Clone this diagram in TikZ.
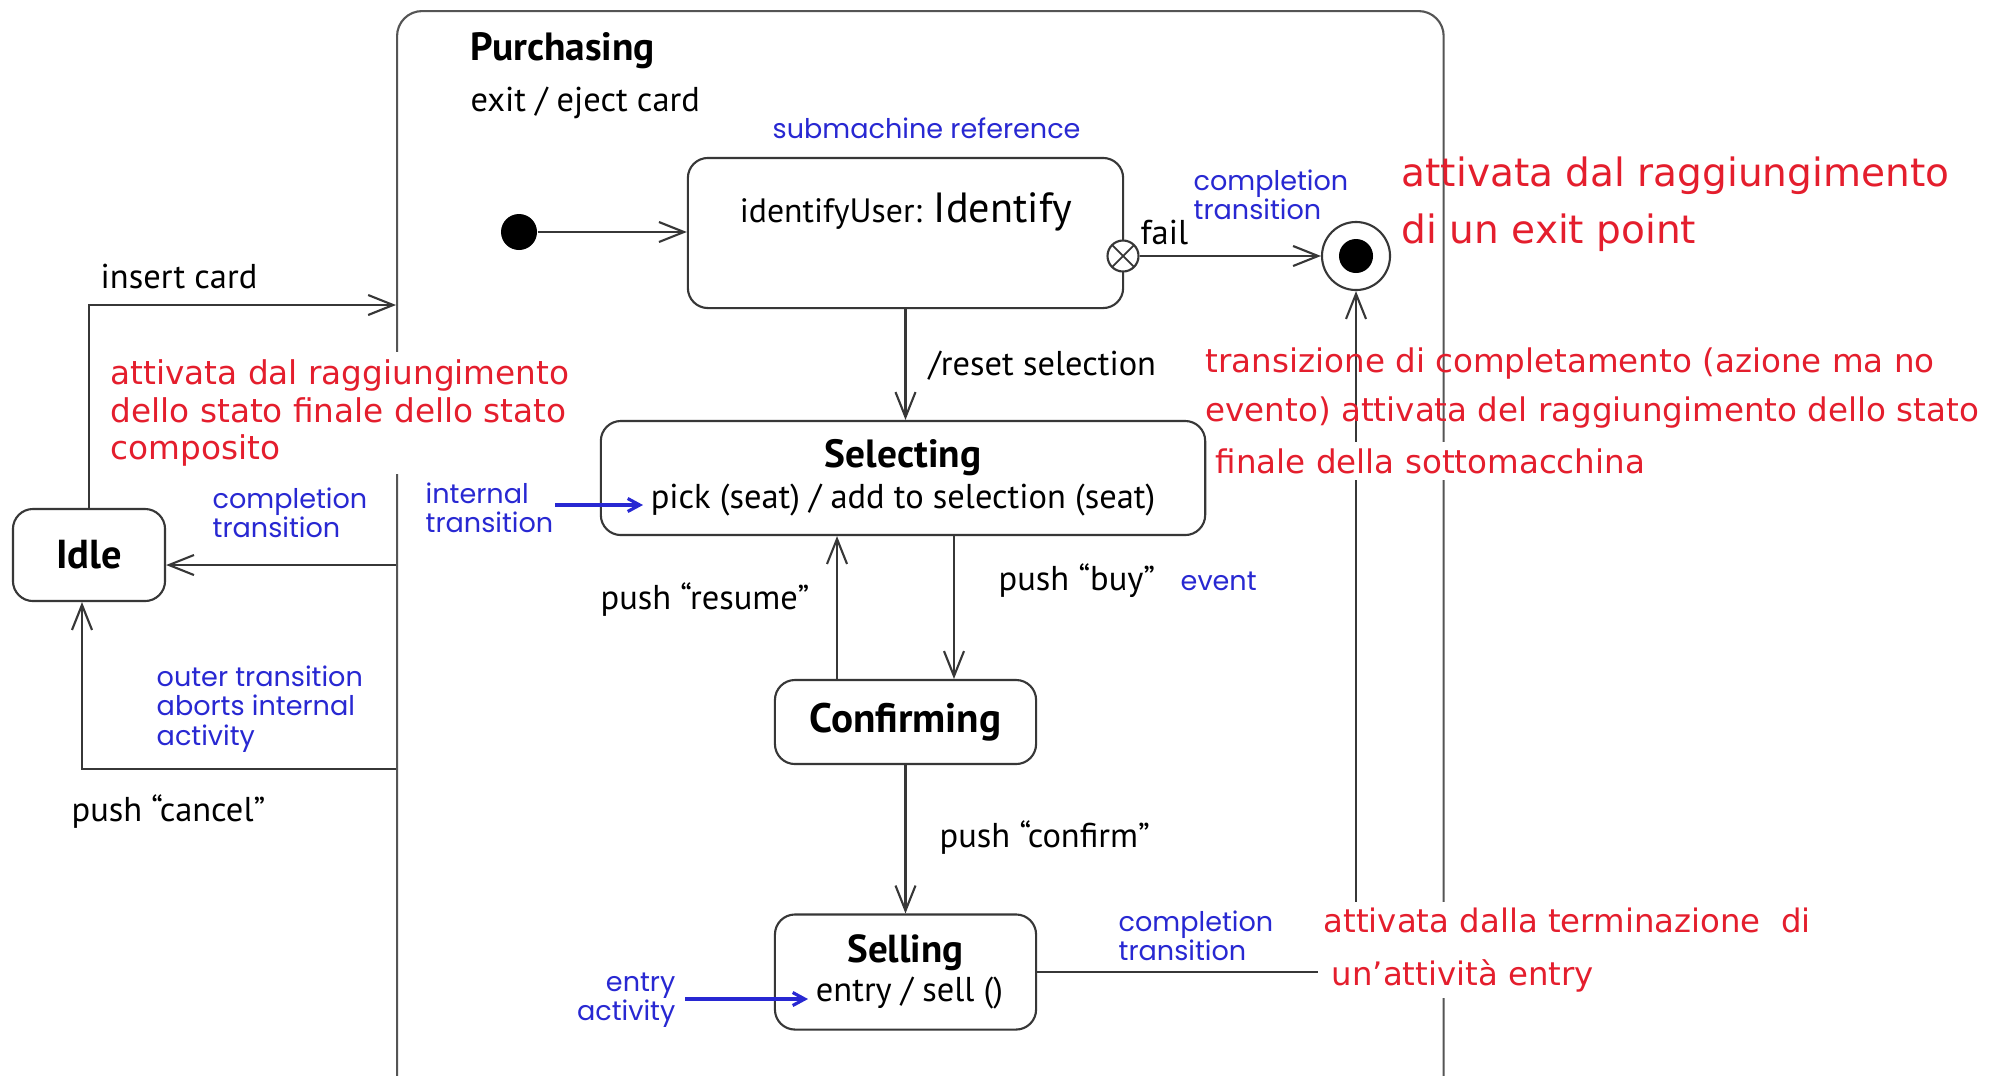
\documentclass[tikz,border=0pt]{standalone}
\usepackage{fontspec}
\setmainfont{PT Sans}
\newfontfamily\bluefont{Poppins}
\newfontfamily\redfont{DejaVu Sans}
\usetikzlibrary{arrows.meta}
\definecolor{ublue}{RGB}{40,40,210}
\definecolor{ured}{RGB}{228,30,45}
\definecolor{uline}{RGB}{55,55,55}
\begin{document}
\begin{tikzpicture}[x=0.01cm,y=-0.01cm,
  state/.style={draw=uline, line width=0.6pt, rounded corners=0.2cm, fill=white, inner sep=0pt, align=center},
  tr/.style={draw=uline, line width=0.6pt, -{Straight Barb[length=0.25cm,width=0.2cm]}},
  btr/.style={draw=ublue, line width=0.9pt, -{Straight Barb[length=0.12cm,width=0.13cm]}},
  lbl/.style={font=\fontsize{9.8}{12}\selectfont, inner sep=0pt, anchor=west, text=black},
  blbl/.style={font=\bluefont\fontsize{7.7}{8.4}\selectfont, inner sep=0pt, anchor=west, text=ublue, align=left},
  rlbl/.style={font=\redfont\fontsize{9.25}{10.5}\selectfont, inner sep=0pt, anchor=west, text=ured, align=left},
]
\useasboundingbox (0,0) rectangle (2001,1075);
\fill[white] (0,0) rectangle (2001,1075);
% composite state
\node[draw=uline!85, line width=0.6pt, rounded corners=0.25cm, minimum width=10.46cm, minimum height=10.9cm, anchor=north west, inner sep=0pt] (purch) at (396,10) {};
\node[lbl, font=\fontsize{11.2}{13}\selectfont] (ptitle) at (470,51) {\bfseries Purchasing};
\node[lbl] (pexit) at (470,103) {exit / eject card};
% states
\node[state, minimum width=4.35cm, minimum height=1.5cm] (identify) at (905.5,233) {};
\node[inner sep=0pt] (idtext) at (906,212) {\fontsize{9.6}{12}\selectfont identifyUser: \fontsize{12}{14}\selectfont Identify};
\node[circle, fill=black, minimum size=0.36cm, inner sep=0pt] (init) at (519,232) {};
\node[circle, draw=uline, fill=white, line width=0.6pt, minimum size=0.31cm, inner sep=0pt,
  path picture={\draw[uline, line width=0.5pt] (path picture bounding box.south west) -- (path picture bounding box.north east) (path picture bounding box.north west) -- (path picture bounding box.south east);}] (exitpt) at (1123,256) {};
\node[circle, draw=uline, line width=0.6pt, fill=white, minimum size=0.68cm, inner sep=0pt] (final) at (1356,256) {};
\node[circle, fill=black, minimum size=0.34cm, inner sep=0pt] (finalin) at (final.center) {};
\node[state, minimum width=6.04cm, minimum height=1.14cm, font=\fontsize{9.8}{11.7}\selectfont] (selecting) at (903,478) {{\fontsize{11.2}{11.7}\selectfont\bfseries Selecting}\\pick (seat) / add to selection (seat)};
\node[state, minimum width=1.52cm, minimum height=0.92cm, font=\fontsize{11.5}{13}\selectfont] (idle) at (89,555) {\bfseries Idle};
\node[state, minimum width=2.61cm, minimum height=0.84cm, font=\fontsize{11.7}{13}\selectfont] (confirming) at (905.5,722) {\bfseries Confirming};
\node[state, minimum width=2.61cm, minimum height=1.15cm, font=\fontsize{9.8}{11}\selectfont] (selling) at (905.5,972) {{\fontsize{11.1}{11}\selectfont\bfseries Selling}\\\hspace{0.08cm}entry / sell ()};
% connectors
\coordinate (buyx) at (954,0);
\coordinate (resx) at (837,0);
\coordinate (pin) at (396,305);
\coordinate (pcomp) at (396,565);
\coordinate (pcan) at (396,769);
\coordinate (cancx) at (82,0);
\draw[tr] (init) -- (identify.west |- init);
\draw[tr] (exitpt) -- (final);
\draw[tr] (identify.south) -- (identify.south |- selecting.north);
\draw[tr] (selecting.south -| buyx) -- (confirming.north -| buyx);
\draw[tr] (confirming.north -| resx) -- (selecting.south -| resx);
\draw[tr] (confirming.south) -- (selling.north);
\draw[tr] (idle.north) |- (pin);
\draw[tr] (pcomp) -- (idle.east |- pcomp);
\draw[tr] (pcan) -| (idle.south -| cancx);
\draw[tr] (selling.east) -| (final.south);
% blue arrows
\coordinate (itstart) at (555,505);
\coordinate (itend) at (643,505);
\coordinate (eastart) at (685,999);
\coordinate (eaend) at (808,999);
\draw[btr] (itstart) -- (itend);
\draw[btr] (eastart) -- (eaend);
% black labels
\node[lbl] (lfail) at (1140,232) {fail};
\node[lbl] (lreset) at (928,366) {/reset selection};
\node[lbl] (linsert) at (100,276) {insert card};
\node[lbl] (lcancel) at (71,812) {push “cancel”};
\node[lbl] (lresume) at (600,600) {push “resume”};
\node[lbl] (lbuy) at (998,581) {push “buy”};
\node[lbl] (lconfirm) at (939,838) {push “confirm”};
% blue labels
\node[blbl] (bsub) at (772,128) {submachine reference};
\node[blbl] (bcomp1) at (1193,195) {completion\\transition};
\node[blbl] (bcomp2) at (212,513) {completion\\transition};
\node[blbl] (bint) at (425,508) {internal\\transition};
\node[blbl] (bouter) at (156,709) {outer transition\\aborts internal\\activity};
\node[blbl] (bevent) at (1180,581) {event};
\node[blbl, anchor=east, align=right] (bentry) at (676,1000) {entry\\activity};
\node[blbl] (bcomp3) at (1118,936) {completion\\transition};
% red labels
\node[rlbl, font=\redfont\fontsize{11.1}{16.2}\selectfont] (rexit) at (1401,204) {attivata dal raggiungimento\\di un exit point};
\node[rlbl, fill=white, inner sep=0.08cm, font=\redfont\fontsize{9.3}{10.6}\selectfont] (rcomp) at (102,413) {attivata dal raggiungimento\\dello stato finale dello stato\\composito};
\node[rlbl, font=\redfont\fontsize{9.25}{13.7}\selectfont] (rsub) at (1205,388) {transizione di completamento (azione ma no\\evento) attivata del raggiungimento dello stato};
\node[rlbl, fill=white, inner sep=0.06cm] (rsub2) at (1209,461) {finale della sottomacchina};
\node[rlbl, fill=white, inner sep=0.06cm, font=\redfont\fontsize{9.2}{15}\selectfont] (rentry) at (1317,950) {attivata dalla terminazione\ \ di\\\hspace{0.08cm}un’attività entry};
\end{tikzpicture}
\end{document}
